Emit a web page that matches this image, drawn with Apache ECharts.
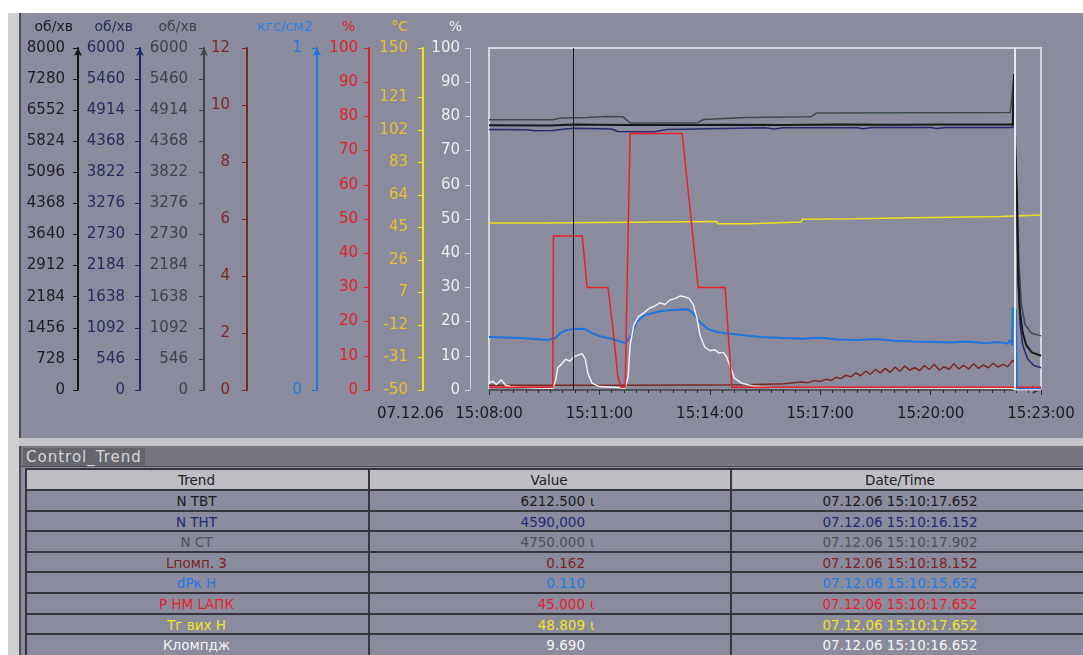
<!DOCTYPE html>
<html>
<head>
<meta charset="utf-8">
<script src="https://cdn.jsdelivr.net/npm/echarts@6/dist/echarts.min.js"></script>
<style>
html,body{margin:0;padding:0;width:1083px;height:655px;overflow:hidden;background:#ffffff;}
#panel{position:absolute;left:21px;top:13px;width:1062px;height:642px;background:#8a8b9c;}
#lstrip{position:absolute;left:8px;top:13px;width:11px;height:642px;background:#cfcfd3;}
#ldark{position:absolute;left:19px;top:13px;width:2px;height:642px;background:#4c4c52;}
#sep{position:absolute;left:19px;top:438px;width:1064px;height:8px;background:#c6c6ca;}
#title{position:absolute;left:21px;top:446px;width:1062px;height:20px;background:#77777f;border-bottom:1px solid #4a4a50;}
#titleText{position:absolute;left:23px;top:448px;height:18px;padding:0 3px;background:#66666e;color:#d6d6d8;font:15px 'DejaVu Sans';letter-spacing:1px;line-height:18px;}
#chart{position:absolute;left:0;top:0;width:1083px;height:440px;}
#tbl{position:absolute;left:25px;top:468px;width:1058px;height:187px;font-family:'DejaVu Sans';font-size:13.5px;}
</style>
</head>
<body>
<div id="panel"></div>
<div id="lstrip"></div>
<div id="ldark"></div>
<div id="sep"></div>
<div id="title"></div>
<div id="titleText">Control_Trend</div>
<div id="tbl"></div>
<div id="chart"></div>
<script>
// ---------- axis ticks / labels ----------
const xTickLabels = ['15:08:00','15:11:00','15:14:00','15:17:00','15:20:00','15:23:00'];
const dateLabel = '07.12.06';
const yellowTicks = [-50,-31,-12,7,26,45,64,83,102,121,150];

// ---------- series data ----------
// N ТВТ (об/хв, 0..8000)
const nTvtT = ['15:08:00','15:09:40','15:10:20','15:11:40','15:13:00','15:14:30','15:16:00','15:17:30','15:19:00','15:20:30','15:22:14','15:22:16','15:22:18','15:22:21','15:22:23','15:22:26','15:22:30','15:22:36','15:22:45','15:23:00'];
const nTvtV = [6195,6190,6212,6200,6198,6205,6200,6208,6204,6210,6210,7390,5700,4400,2600,1800,1350,1050,880,800];
// N ТНТ (об/хв, 0..6000)
const nTntT = ['15:08:00','15:09:00','15:09:15','15:09:44','15:10:00','15:10:18','15:11:20','15:11:30','15:12:30','15:12:50','15:14:00','15:15:30','15:15:45','15:16:00','15:18:00','15:18:10','15:18:25','15:20:00','15:20:10','15:20:25','15:22:14','15:22:16','15:22:18','15:22:21','15:22:23','15:22:26','15:22:30','15:22:38','15:22:48','15:23:00'];
const nTntV = [4570,4566,4550,4552,4575,4590,4580,4535,4530,4570,4585,4600,4580,4602,4602,4585,4604,4604,4586,4606,4606,5400,4100,3100,1800,1150,800,550,430,390];
// N СТ (об/хв, 0..6000)
const nStT = ['15:08:00','15:09:44','15:09:56','15:10:40','15:11:10','15:11:38','15:11:50','15:13:40','15:13:50','15:15:00','15:16:45','15:16:55','15:22:10','15:22:16','15:22:18','15:22:21','15:22:24','15:22:28','15:22:34','15:22:44','15:23:00'];
const nStV = [4740,4740,4770,4780,4800,4795,4685,4690,4745,4780,4795,4860,4868,5520,4300,3400,2200,1500,1150,1000,950];
// Lпомп. 3 (0..12)
const lPompT = ['15:08:00','15:12:00','15:15:00','15:16:00','15:16:30','15:16:40','15:16:50','15:17:00','15:17:10','15:17:18','15:17:26','15:17:34','15:17:42','15:17:50','15:17:58','15:18:06','15:18:14','15:18:22','15:18:30','15:18:38','15:18:46','15:18:54','15:19:02','15:19:10','15:19:18','15:19:26','15:19:34','15:19:42','15:19:50','15:19:58','15:20:06','15:20:14','15:20:22','15:20:30','15:20:38','15:20:46','15:20:54','15:21:02','15:21:10','15:21:18','15:21:26','15:21:34','15:21:42','15:21:50','15:21:58','15:22:06','15:22:14','15:22:18','15:22:20','15:22:22','15:23:00'];
const lPompV = [0.17,0.17,0.18,0.22,0.28,0.25,0.33,0.30,0.38,0.33,0.45,0.40,0.52,0.46,0.60,0.50,0.66,0.55,0.72,0.60,0.76,0.62,0.80,0.66,0.84,0.70,0.78,0.68,0.86,0.72,0.90,0.70,0.82,0.72,0.92,0.74,0.86,0.74,0.92,0.76,0.88,0.78,0.94,0.80,0.90,0.82,1.05,0.95,0.10,0.02,0.02];
// dPк H (кгс/см2, 0..1)
const dPkT = ['15:08:00','15:08:50','15:09:36','15:09:48','15:09:56','15:10:06','15:10:20','15:10:37','15:10:48','15:11:01','15:11:21','15:11:37','15:11:43','15:11:52','15:12:00','15:12:14','15:12:39','15:13:03','15:13:24','15:13:33','15:13:44','15:13:57','15:14:13','15:14:41','15:15:22','15:16:00','15:16:30','15:17:00','15:17:30','15:18:00','15:18:30','15:19:00','15:19:30','15:20:00','15:20:30','15:21:00','15:21:30','15:21:50','15:22:05','15:22:10','15:22:13','15:22:14','15:22:19','15:22:21','15:23:00'];
const dPkV = [0.155,0.152,0.146,0.152,0.166,0.175,0.179,0.178,0.166,0.157,0.149,0.140,0.137,0.160,0.198,0.219,0.230,0.235,0.236,0.224,0.198,0.178,0.169,0.163,0.155,0.152,0.150,0.153,0.148,0.146,0.149,0.144,0.142,0.141,0.139,0.142,0.137,0.140,0.136,0.146,0.131,0.240,0.235,0.004,0.004];
// P HM LАПК (%, 0..100)
const pNmT = ['15:08:00','15:09:44','15:09:45','15:10:32','15:10:40','15:11:14','15:11:22','15:11:30','15:11:35','15:11:42','15:11:50','15:13:15','15:13:41','15:14:25','15:14:36','15:23:00'];
const pNmV = [0.8,0.8,45,45,30,30,18,4,0.8,0.8,75,75,30,30,0.8,0.8];
// Tг вих H (°C, -50..150)
const tGT = ['15:08:00','15:09:31','15:09:33','15:14:11','15:14:13','15:15:04','15:15:06','15:16:29','15:16:31','15:18:00','15:19:30','15:21:55','15:21:57','15:23:00'];
const tGV = [47.6,47.6,48.5,48.5,47.2,47.2,48.3,48.3,49.8,50.2,50.8,51.4,52.3,52.3];
// Кломпдж (%, 0..100)
const kLT = ['15:08:00','15:08:06','15:08:12','15:08:20','15:08:27','15:08:35','15:08:50','15:09:20','15:09:44','15:09:49','15:09:52','15:09:58','15:10:05','15:10:12','15:10:18','15:10:25','15:10:32','15:10:37','15:10:41','15:10:48','15:11:00','15:11:30','15:11:42','15:11:47','15:11:50','15:11:56','15:12:04','15:12:12','15:12:22','15:12:30','15:12:38','15:12:47','15:12:55','15:13:04','15:13:12','15:13:20','15:13:26','15:13:33','15:13:39','15:13:44','15:13:52','15:14:00','15:14:08','15:14:15','15:14:22','15:14:27','15:14:33','15:14:40','15:14:52','15:15:10','15:15:40','15:22:14','15:22:18','15:23:00'];
const kLV = [2,2.6,1.6,3,1.4,1,0.8,0.6,0.5,3,6.5,7.5,9,8.4,9.7,10.2,10.6,9,5,2,1,0.7,0.6,4,13,19,21.5,22.5,24,24.5,25.5,25,26.3,26.8,27.5,27.2,26.8,25,21,16,12.5,11.5,11.8,10.8,11,9.8,7,3.5,2,1.2,0.7,0.5,0,0];

const cursorTime = '15:10:18';
const nowTime = '15:22:18';

// ---------- table ----------
const tableHead = ['Trend','Value','Date/Time'];
const trendNames = ['N ТВТ','N ТНТ','N СТ','Lпомп. 3','dPк H','P HM LАПК','Tг вих H','Кломпдж'];
const trendValues = ['6212.500','4590,000','4750.000','0.162','0.110','45.000','48.809','9.690'];
const trendFlags = ['ι','','ι','','','ι','ι',''];
const trendTimes = ['07.12.06 15:10:17.652','07.12.06 15:10:16.152','07.12.06 15:10:17.902','07.12.06 15:10:18.152','07.12.06 15:10:15.652','07.12.06 15:10:17.652','07.12.06 15:10:17.652','07.12.06 15:10:16.652'];
const trendColors = ['#1c1c20','#242a78','#4a5454','#7c2424','#1e7ae6','#ea1e2a','#f0e41e','#f4f4f4'];

// ---------- helpers ----------
const T0 = 15*3600 + 8*60;
function sec(s){ const p = s.split(':').map(Number); return p[0]*3600 + p[1]*60 + p[2] - T0; }
function zip(ts, vs){ return ts.map((t,i)=>[sec(t), vs[i]]); }

const FONT = 'DejaVu Sans';
const GL = 489;
function yAx(o){
  return {
    type:'value', position:'left', offset: GL - o.x, min:o.min, max:o.max,
    interval:o.interval,
    name:o.name || '', nameLocation:'end', nameGap:21,
    nameTextStyle:{color:o.nameColor||o.labelColor, fontFamily:FONT, fontSize:14, align:'right', verticalAlign:'middle', padding:[0,o.namePad||5,0,0]},
    axisLine:{show:true, onZero:false, lineStyle:{color:o.lineColor, width:o.lw||2}, symbol: o.arrow?['none','arrow']:['none','none'], symbolSize:[6,8]},
    axisTick:{show:true, length:5, lineStyle:{color:o.lineColor, width:1}, customValues:o.custom},
    axisLabel:{show:true, color:o.labelColor, fontFamily:FONT, fontSize:15, margin:o.margin, customValues:o.custom, formatter:(v)=>String(v)},
    splitLine:{show:false}
  };
}

const yAxes = [
  yAx({x:78,  min:0, max:8000, interval:728, lineColor:'#151515', labelColor:'#1e1e22', name:'об/хв', namePad:5, margin:13, arrow:true}),
  yAx({x:140, min:0, max:6000, interval:546, lineColor:'#22286a', labelColor:'#262c60', name:'об/хв', namePad:7, margin:15, arrow:true}),
  yAx({x:204, min:0, max:6000, interval:546, lineColor:'#3a4848', labelColor:'#3a4646', name:'об/хв', namePad:7, margin:16, arrow:true}),
  yAx({x:247, min:0, max:12, interval:2, lineColor:'#7a2a22', labelColor:'#7a2a24', margin:17}),
  yAx({x:317, min:0, max:1, interval:1, lineColor:'#1a78e0', labelColor:'#1f78e0', name:'кгс/см2', nameColor:'#2a80e8', namePad:4, margin:15, arrow:true}),
  yAx({x:369, min:0, max:100, interval:10, lineColor:'#e0202a', labelColor:'#e6202a', name:'%', namePad:14, margin:11}),
  yAx({x:423, min:-50, max:150, custom:yellowTicks, lineColor:'#f2e600', labelColor:'#e8c030', name:'°C', namePad:15, margin:15}),
  yAx({x:470, min:0, max:100, interval:10, lineColor:'#d0d0d6', labelColor:'#eeeeee', name:'%', namePad:8, margin:10, lw:1})
];

function line(name, yi, data, color, w, extra){
  return Object.assign({
    name, type:'line', yAxisIndex:yi, data, showSymbol:false, symbol:'none',
    lineStyle:{color, width:w}, itemStyle:{color}, animation:false, silent:true
  }, extra||{});
}

const option = {
  animation:false,
  backgroundColor:'transparent',
  grid:{left:GL, top:48, width:552, height:342, show:true, borderColor:'#d6d6dc', borderWidth:2, backgroundColor:'transparent', outerBoundsMode:'none'},
  xAxis:{
    type:'value', min:0, max:900, interval:180, position:'bottom', offset:7,
    axisLine:{show:true, lineStyle:{color:'#2a2a2e', width:1.5}, symbol:['none','arrow'], symbolSize:[6,9]},
    axisTick:{show:true, length:5, lineStyle:{color:'#2a2a2e'}},
    minorTick:{show:true, splitNumber:9, length:3, lineStyle:{color:'#2a2a2e'}},
    axisLabel:{color:'#1c1c20', fontFamily:FONT, fontSize:15, margin:10, formatter:(v)=>xTickLabels[Math.round(v/180)]},
    splitLine:{show:false}
  },
  yAxis:yAxes,
  graphic:[{type:'text', left:377, top:407, style:{text:dateLabel, fill:'#1c1c20', font:'15px "DejaVu Sans"'}}],
  series:[
    line('Lпомп. 3', 3, zip(lPompT,lPompV), '#7a2a24', 1.5, {
      markLine:{silent:true, symbol:['none','none'], label:{show:false}, animation:false,
        data:[
          {xAxis:sec(nowTime), lineStyle:{color:'#e8e8ee', width:2, type:'solid'}},
          {xAxis:sec(cursorTime), lineStyle:{color:'#1a1a1e', width:1, type:'solid'}}
        ]}
    }),
    line('Tг вих H', 6, zip(tGT,tGV), '#eee01e', 1.5),
    line('N СТ', 2, zip(nStT,nStV), '#3c4a4a', 1.5),
    line('N ТНТ', 1, zip(nTntT,nTntV), '#262a6e', 1.5),
    line('N ТВТ', 0, zip(nTvtT,nTvtV), '#18181c', 2),
    line('dPк H', 4, zip(dPkT,dPkV), '#1e74de', 2),
    line('Кломпдж', 7, zip(kLT,kLV), '#eeeef2', 1.5),
    line('P HM LАПК', 5, zip(pNmT,pNmV), '#e8202a', 1.5)
  ]
};

const chart = echarts.init(document.getElementById('chart'), null, {renderer:'canvas'});
chart.setOption(option);

// ---------- build table ----------
const tbl = document.getElementById('tbl');
function add(css, text){ const d=document.createElement('div'); d.style.cssText='position:absolute;'+css; if(text!=null) d.textContent=text; tbl.appendChild(d); return d; }
const HH = 22, RH = 20.6, W = 1058;
const colX = [0,343,705,1045];
add(`left:0;top:0;width:${W}px;height:${HH}px;background:#bdbdc3;`);
tableHead.forEach((h,i)=>{
  add(`left:${colX[i]}px;top:1px;width:${colX[i+1]-colX[i]}px;height:${HH}px;line-height:${HH}px;text-align:center;color:#202024;`, h);
});
trendNames.forEach((n,i)=>{
  const top = HH + i*RH + 1;
  const c = trendColors[i];
  add(`left:0;top:${top}px;width:343px;height:${RH}px;line-height:${RH}px;text-align:center;color:${c};`, n);
  add(`left:343px;top:${top}px;width:217px;height:${RH}px;line-height:${RH}px;text-align:right;color:${c};`, trendValues[i]);
  if (trendFlags[i]) add(`left:565px;top:${top}px;width:20px;height:${RH}px;line-height:${RH}px;color:${c};`, trendFlags[i]);
  add(`left:705px;top:${top}px;width:340px;height:${RH}px;line-height:${RH}px;text-align:center;color:${c};`, trendTimes[i]);
});
// grid lines
add(`left:0;top:0;width:${W}px;height:2px;background:#36363c;`);
for (let k=0;k<=7;k++){ add(`left:0;top:${HH + k*RH - 1}px;width:${W}px;height:2px;background:#36363c;`); }
[0,343,705].forEach(x=>add(`left:${x}px;top:0;width:2px;height:187px;background:#36363c;`));
</script>
</body>
</html>
